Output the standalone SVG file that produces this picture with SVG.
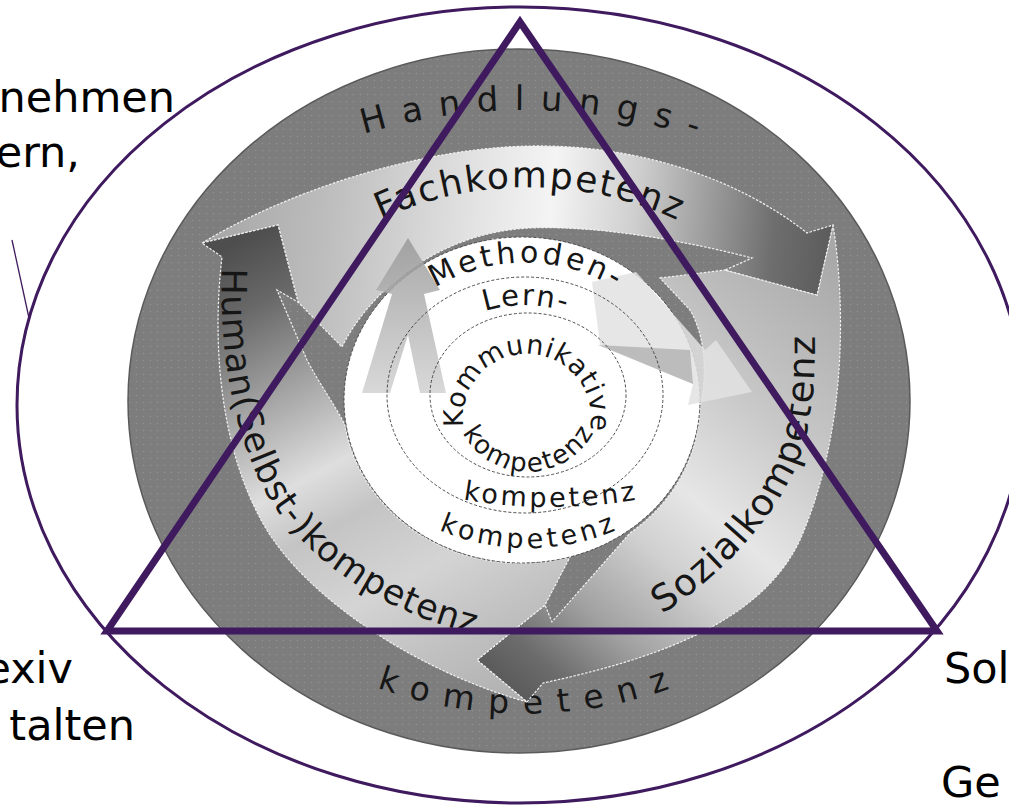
<svg xmlns="http://www.w3.org/2000/svg" width="1009" height="806" viewBox="0 0 1009 806">
<defs>
<style>
.p{fill:none;stroke:#3f1a5f}
.t{font-family:'DejaVu Sans',Verdana,sans-serif;fill:#161616}
.side{font-family:'DejaVu Sans',Verdana,sans-serif;font-size:43px;fill:#000}
.edge{stroke:#f2f2f2;stroke-width:1.2;stroke-dasharray:2.5 1.5}
.ring{fill:none;stroke:#3a3a3a;stroke-width:0.9;stroke-dasharray:3 2}
</style>
<pattern id="dots" width="7" height="7" patternUnits="userSpaceOnUse"><rect width="7" height="7" fill="#7d7d7d"/><circle cx="3.5" cy="3.5" r="0.8" fill="#919191"/></pattern>
<linearGradient id="gF" gradientUnits="userSpaceOnUse" x1="200" y1="200" x2="835" y2="260">
<stop offset="0" stop-color="#a4a4a4"/><stop offset="0.2" stop-color="#bdbdbd"/><stop offset="0.45" stop-color="#e6e6e6"/><stop offset="0.55" stop-color="#f4f4f4"/><stop offset="0.68" stop-color="#cfcfcf"/><stop offset="0.8" stop-color="#9a9a9a"/><stop offset="0.9" stop-color="#6e6e6e"/><stop offset="1" stop-color="#5a5a5a"/>
</linearGradient>
<linearGradient id="gS" gradientUnits="userSpaceOnUse" x1="840" y1="260" x2="480" y2="680">
<stop offset="0" stop-color="#a8a8a8"/><stop offset="0.3" stop-color="#c8c8c8"/><stop offset="0.5" stop-color="#e6e6e6"/><stop offset="0.62" stop-color="#d0d0d0"/><stop offset="0.78" stop-color="#a0a0a0"/><stop offset="0.9" stop-color="#6c6c6c"/><stop offset="1" stop-color="#555"/>
</linearGradient>
<linearGradient id="gH" gradientUnits="userSpaceOnUse" x1="270" y1="225" x2="520" y2="700">
<stop offset="0" stop-color="#4e4e4e"/><stop offset="0.12" stop-color="#686868"/><stop offset="0.3" stop-color="#a8a8a8"/><stop offset="0.45" stop-color="#dedede"/><stop offset="0.55" stop-color="#c4c4c4"/><stop offset="0.7" stop-color="#d4d4d4"/><stop offset="0.85" stop-color="#c0c0c0"/><stop offset="1" stop-color="#b0b0b0"/>
</linearGradient>
<linearGradient id="gM" gradientUnits="userSpaceOnUse" x1="0" y1="240" x2="0" y2="395">
<stop offset="0" stop-color="#9a9a9a"/><stop offset="1" stop-color="#d2d2d2"/>
</linearGradient>
<path id="pHand" d="M 340,142 A 550 550 0 0 1 720,146"/>
<path id="pOut" d="M 340,672 A 432 432 0 0 0 710,672"/>
<path id="pFach" d="M 340,241 A 356 356 0 0 1 716,241"/>
<path id="pHum" d="M 222,268 C 219,360 235,440 270,500 C 310,565 390,615 482,636"/>
<path id="pSoz" d="M 662,614 C 728,572 790,502 805,440 C 815,400 816,360 814,315"/>
<path id="pMeth" d="M 380,342 A 172 172 0 0 1 670,342"/>
<path id="pLern" d="M 425,351 A 132 132 0 0 1 625,351"/>
<path id="pKom" d="M 463.6,426.9 A 64 64 0 1 1 587.1,439.9"/>
<path id="pK1" d="M 458.5,423.3 A 74 74 0 0 0 597.5,423.3"/>
<path id="pK2" d="M 440,495 A 510 510 0 0 0 660,495"/>
<path id="pK3" d="M 400,508 A 224 224 0 0 0 656,508"/>
</defs>
<rect width="1009" height="806" fill="#fff"/>

<g id="disk">
<ellipse cx="519" cy="401" rx="391" ry="352" fill="url(#dots)" stroke="#5a5a5a" stroke-width="1.5"/>
<text class="t" font-size="34" letter-spacing="16"><textPath href="#pHand" startOffset="52%" text-anchor="middle">Handlungs-</textPath></text>
<text class="t" font-size="33" letter-spacing="14.5"><textPath href="#pOut" startOffset="51.5%" text-anchor="middle">kompetenz</textPath></text>
</g>

<g id="sozial">
<path class="edge" fill="url(#gS)" d="M 660,278 L 725,270 L 817,295 L 833,225 C 845,300 848,430 800,540 C 760,625 650,660 543,683 L 527,702 L 477,660 L 545,605 L 552,622 L 630,533 A 178 163 0 0 0 700,405 C 708,375 705,335 690,310 Z"/>
</g>
<g id="fach">
<path class="edge" fill="url(#gF)" d="M 202,243 C 290,190 420,148 530,146 C 640,144 740,180 807,233 L 833,225 L 817,295 L 725,270 L 752,258 C 690,242 600,225 530,228 C 440,232 370,290 342,347 L 298,302 L 278,225 Z"/>
</g>
<g id="human">
<path class="edge" fill="url(#gH)" d="M 527,702 C 430,675 320,610 270,535 C 225,465 210,360 222,257 L 202,243 L 278,225 L 298,302 L 277,290 L 307,360 C 320,385 335,405 345,425 A 178 163 0 0 0 570,557 L 545,605 L 477,660 Z"/>
</g>

<g id="center">
<ellipse cx="522" cy="400" rx="178" ry="163" fill="#fff" stroke="#444" stroke-width="0.9" stroke-dasharray="3 2"/>
<path d="M 408,238 L 440,290 L 424,294 L 446,393 L 420,393 L 408,335 L 390,393 L 362,393 L 392,294 L 376,290 Z" fill="url(#gM)" opacity="0.85"/>
<path d="M 592,282 L 636,272 L 705,350 L 716,340 L 752,392 L 688,405 L 693,384 L 600,345 Z" fill="#e2e2e2" opacity="0.85"/>
<path d="M 598,345 L 690,350 L 693,384 Z" fill="#a0a0a0" opacity="0.6"/>
<ellipse class="ring" cx="525" cy="395" rx="138" ry="118"/>
<ellipse class="ring" cx="528" cy="395" rx="98" ry="82"/>
<text class="t" font-size="30" letter-spacing="3.5"><textPath href="#pMeth" startOffset="50.5%" text-anchor="middle">Methoden-</textPath></text>
<text class="t" font-size="29" letter-spacing="2"><textPath href="#pLern" startOffset="50.5%" text-anchor="middle">Lern-</textPath></text>
<text class="t" font-size="27" letter-spacing="1"><textPath href="#pKom" startOffset="0">Kommunikative</textPath></text>
<text class="t" font-size="26" letter-spacing="2"><textPath href="#pK1" startOffset="50.5%" text-anchor="middle">kompetenz</textPath></text>
<text class="t" font-size="27" letter-spacing="3"><textPath href="#pK2" startOffset="50.5%" text-anchor="middle">kompetenz</textPath></text>
<text class="t" font-size="27" letter-spacing="4"><textPath href="#pK3" startOffset="50.5%" text-anchor="middle">kompetenz</textPath></text>
</g>

<g id="band-labels">
<text class="t" font-size="36" letter-spacing="2"><textPath href="#pFach" startOffset="50.5%" text-anchor="middle">Fachkompetenz</textPath></text>
<text class="t" font-size="35" letter-spacing="1"><textPath href="#pHum" startOffset="0">Human(Selbst-)kompetenz</textPath></text>
<text class="t" font-size="37" letter-spacing="1.5"><textPath href="#pSoz" startOffset="0">Sozialkompetenz</textPath></text>
</g>

<g id="connectors">
<ellipse class="p" cx="520" cy="405" rx="503" ry="398" stroke-width="3"/>
<polygon class="p" points="520,22 107,631 937,631" stroke-width="7" stroke-linejoin="miter"/>
<line class="p" x1="12" y1="240" x2="29" y2="318" stroke-width="1.3"/>
</g>

<g id="side-texts">
<text class="side" x="175" y="112" text-anchor="end">nehmen</text>
<text class="side" x="80" y="167" text-anchor="end">ern,</text>
<text class="side" x="73" y="683" text-anchor="end">exiv</text>
<text class="side" x="135" y="740" text-anchor="end">talten</text>
<text class="side" x="944" y="683">Sol</text>
<text class="side" x="941" y="797">Ge</text>
</g>
</svg>
